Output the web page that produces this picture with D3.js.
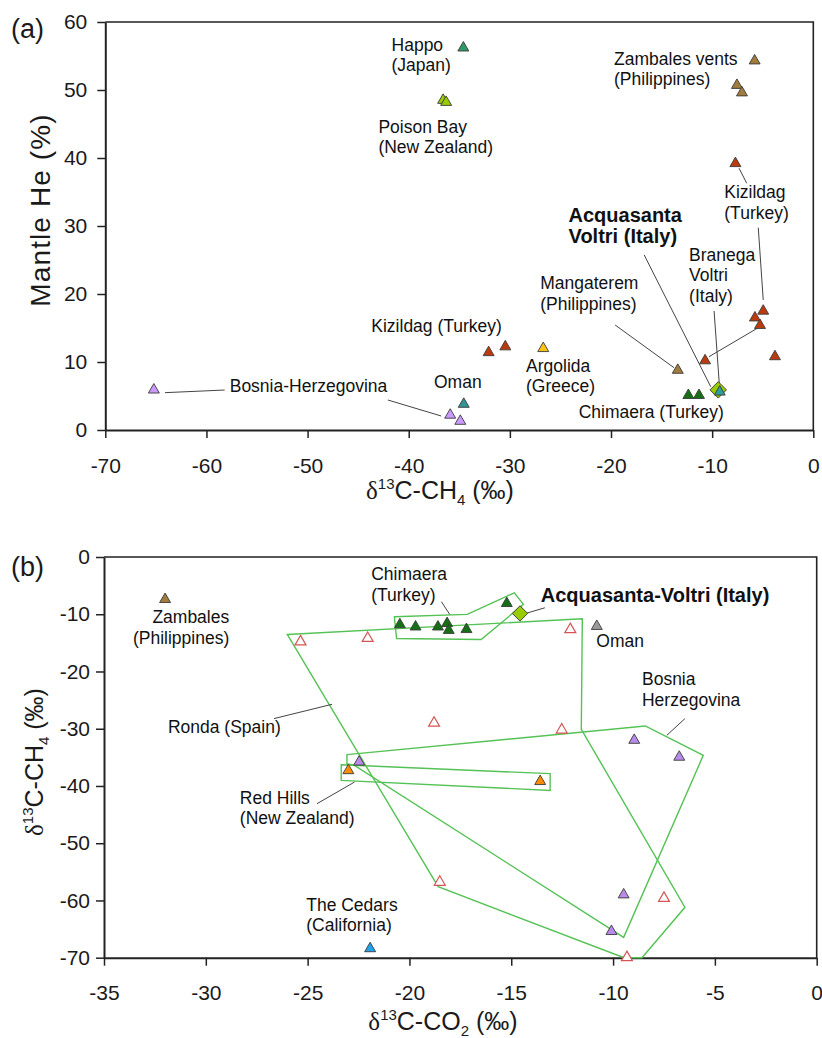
<!DOCTYPE html>
<html>
<head>
<meta charset="utf-8">
<script src="https://cdn.jsdelivr.net/npm/d3@7"></script>
<style>
  body { margin: 0; background: #fff; }
  svg { font-family: "Liberation Sans", Arial, sans-serif; }
</style>
</head>
<body>
<div id="chart"></div>
<script>
// ---- panel (a): d13C-CH4 (permil) vs mantle He (%) ----
var xTicksA = [-70, -60, -50, -40, -30, -20, -10, 0];
var yTicksA = [0, 10, 20, 30, 40, 50, 60];

var happoA = [[-34.6, 56.2]];
var poisonBayA = [[-36.6, 48.5], [-36.3, 48.2]];
var zambalesA = [[-5.8, 54.3], [-7.55, 50.7], [-7.05, 49.6]];
var kizildagA = [[-7.7, 39.2], [-4.95, 17.5], [-5.77, 16.5], [-5.27, 15.4],
                 [-3.79, 10.8], [-10.7, 10.2], [-32.1, 11.4], [-30.45, 12.25]];
var argolidaA = [[-26.7, 12.0]];
var mangateremA = [[-13.4, 8.8]];
var chimaeraA = [[-12.35, 5.1], [-11.3, 5.1]];
var acquasantaA = [[-9.4, 5.9]];
var branegaA = [[-9.25, 5.6]];
var omanA = [[-34.56, 3.8]];
var bosniaA = [[-65.2, 5.9], [-35.9, 2.2], [-34.9, 1.3]];

// ---- panel (b): d13C-CO2 vs d13C-CH4 ----
var xTicksB = [-35, -30, -25, -20, -15, -10, -5, 0];
var yTicksB = [0, -10, -20, -30, -40, -50, -60, -70];

var zambalesB = [[-32.0, -7.4]];
var rondaB = [[-25.35, -14.8], [-22.05, -14.2], [-12.1, -12.65], [-18.79, -29.0],
              [-12.52, -30.2], [-18.51, -56.8], [-7.5, -59.6], [-9.32, -69.95]];
var chimaeraB = [[-20.47, -11.8], [-19.7, -12.2], [-18.6, -12.2], [-18.15, -11.6],
                 [-18.07, -12.8], [-17.2, -12.65], [-15.22, -8.1]];
var acquasantaB = [[-14.57, -9.86]];
var omanB = [[-10.8, -12.1]];
var bosniaB = [[-22.47, -35.8], [-8.96, -32.0], [-6.75, -34.95], [-9.48, -59.0], [-10.08, -65.4]];
var redHillsB = [[-23.0, -37.3], [-13.58, -39.2]];
var cedarsB = [[-21.93, -68.4]];

// field outlines (panel b)
var rondaHull = [[-26.0, -13.53], [-11.51, -10.8], [-11.56, -30.1], [-6.47, -61.2],
                 [-8.58, -70], [-9.46, -70], [-18.59, -57.6]];
var bosniaHull = [[-23.07, -34.53], [-8.42, -29.52], [-5.57, -34.65], [-9.48, -66.45],
                  [-22.7, -36.4], [-23.07, -36.1]];
var redHillsHull = [[-23.35, -36.28], [-13.09, -37.85], [-13.09, -40.78], [-23.35, -39.03]];
var chimaeraHull = [[-20.74, -10.45], [-17.16, -10.03], [-14.85, -6.25], [-14.4, -8.28],
                    [-16.48, -14.4], [-20.63, -14.23]];

// annotations (anchor in data units)
var labelsA = [
  { lines: ["Happo", "(Japan)"], at: [-41.7, 55.8] },
  { lines: ["Poison Bay", "(New Zealand)"], at: [-43.0, 43.7] },
  { lines: ["Zambales vents", "(Philippines)"], at: [-19.7, 53.7] },
  { lines: ["Kizildag", "(Turkey)"], at: [-8.8, 34.1] },
  { lines: ["Acquasanta", "Voltri (Italy)"], at: [-24.2, 30.6], bold: true },
  { lines: ["Branega", "Voltri", "(Italy)"], at: [-12.28, 24.9] },
  { lines: ["Mangaterem", "(Philippines)"], at: [-27.0, 20.7] },
  { lines: ["Kizildag (Turkey)"], at: [-43.7, 14.46] },
  { lines: ["Argolida", "(Greece)"], at: [-28.4, 8.57] },
  { lines: ["Oman"], at: [-37.5, 6.13] },
  { lines: ["Chimaera (Turkey)"], at: [-23.2, 1.72] },
  { lines: ["Bosnia-Herzegovina"], at: [-57.7, 5.63] }
];
var leadersA = [
  [[-64.1, 5.49], [-58.2, 5.88]],
  [[-42.06, 4.41], [-36.79, 2.06]],
  [[-19.59, 15.44], [-13.77, 9.16]],
  [[-16.72, 25.74], [-10.14, 6.37]],
  [[-9.81, 17.5], [-9.25, 5.88]],
  [[-5.44, 29.75], [-4.95, 19.12]],
  [[-7.34, 38.49], [-6.58, 36.28]],
  [[-10.31, 10.78], [-5.54, 14.96]]
];

var labelsB = [
  { lines: ["Zambales", "(Philippines)"], at: [-28.85, -11.6], anchor: "end" },
  { lines: ["Chimaera", "(Turkey)"], at: [-21.88, -4.03] },
  { lines: ["Acquasanta-Voltri (Italy)"], at: [-13.55, -7.82], bold: true },
  { lines: ["Oman"], at: [-10.82, -15.7] },
  { lines: ["Bosnia", "Herzegovina"], at: [-8.58, -22.4] },
  { lines: ["Ronda (Spain)"], at: [-31.86, -30.68] },
  { lines: ["Red Hills", "(New Zealand)"], at: [-28.33, -43.1] },
  { lines: ["The Cedars", "(California)"], at: [-25.07, -61.78] }
];
var leadersB = [
  [[-18.43, -7.82], [-18.02, -10.03]],
  [[-14.28, -9.85], [-13.35, -8.87]],
  [[-26.65, -28.23], [-23.8, -25.73]],
  [[-7.36, -31.15], [-6.47, -28.23]],
  [[-24.54, -43.1], [-22.7, -39.32]]
];

var svg = d3.select("#chart").append("svg")
    .attr("width", 822)
    .attr("height", 1038);

var ink = "#222";

function makePanel(opt) {
    var p = {};
    p.x = d3.scaleLinear().domain(opt.xDomain).range([opt.left, opt.right]);
    p.y = d3.scaleLinear().domain(opt.yDomain).range([opt.bottom, opt.top]);
    p.g = svg.append("g");

    // top + right frame
    p.g.append("path")
        .attr("d", "M" + opt.left + "," + opt.top + "H" + opt.right + "V" + opt.bottom)
        .attr("fill", "none")
        .attr("stroke", ink)
        .attr("stroke-width", 1.6);

    var xAxisCall = d3.axisBottom(p.x)
        .tickValues(opt.xTicks)
        .tickFormat(function(d) { return String(d); })
        .tickSize(8).tickSizeOuter(0).tickPadding(opt.xPad);
    var yAxisCall = d3.axisLeft(p.y)
        .tickValues(opt.yTicks)
        .tickFormat(function(d) { return String(d); })
        .tickSize(8).tickSizeOuter(0).tickPadding(opt.yPad);

    [p.g.append("g").attr("transform", "translate(0," + opt.bottom + ")").call(xAxisCall),
     p.g.append("g").attr("transform", "translate(" + opt.left + ",0)").call(yAxisCall)]
        .forEach(function(ax) {
            ax.attr("font-family", null).attr("font-size", 21);
            ax.select(".domain").attr("stroke", ink).attr("stroke-width", 2);
            ax.selectAll(".tick line").attr("stroke", ink).attr("stroke-width", 1.5);
            ax.selectAll(".tick text").attr("fill", "#1a1a1a");
        });

    p.g.append("text")
        .attr("x", 11).attr("y", opt.tagY)
        .attr("font-size", 27)
        .attr("fill", "#1a1a1a")
        .text(opt.tag);
    return p;
}

function drawPoints(p, data, fill, opts) {
    opts = opts || {};
    var sym = d3.symbol().type(opts.diamond ? d3.symbolSquare : d3.symbolTriangle)
        .size(opts.size || 52);
    p.g.append("g").selectAll("path")
        .data(data)
        .enter().append("path")
        .attr("d", sym)
        .attr("transform", function(d) {
            return "translate(" + p.x(d[0]) + "," + p.y(d[1]) + ")" + (opts.diamond ? " rotate(45)" : "");
        })
        .attr("fill", fill)
        .attr("stroke", opts.stroke || "#3a3a3a")
        .attr("stroke-width", opts.sw || 0.9);
}

function drawLabels(p, labels, leaders) {
    p.g.append("g").selectAll("line")
        .data(leaders)
        .enter().append("line")
        .attr("x1", function(d) { return p.x(d[0][0]); })
        .attr("y1", function(d) { return p.y(d[0][1]); })
        .attr("x2", function(d) { return p.x(d[1][0]); })
        .attr("y2", function(d) { return p.y(d[1][1]); })
        .attr("stroke", "#444")
        .attr("stroke-width", 1);

    labels.forEach(function(l) {
        var t = p.g.append("text")
            .attr("x", p.x(l.at[0]))
            .attr("y", p.y(l.at[1]))
            .attr("text-anchor", l.anchor || "start")
            .attr("font-size", l.bold ? 20 : 17.5)
            .attr("font-weight", l.bold ? "bold" : null)
            .attr("fill", "#111");
        l.lines.forEach(function(s, i) {
            t.append("tspan")
                .attr("x", p.x(l.at[0]))
                .attr("dy", i === 0 ? 0 : (l.bold ? 21.5 : 20.5))
                .text(s);
        });
    });
}

// delta title: d13C-XX(sub) (permil)
function deltaTitle(sel, mid, sub) {
    sel.append("tspan").attr("font-family", "'Liberation Serif', serif").text("δ");
    sel.append("tspan").attr("font-size", 15).attr("dy", -10).text("13");
    sel.append("tspan").attr("dy", 10).text("C-" + mid);
    sel.append("tspan").attr("font-size", 15).attr("dy", 6).text(sub);
    sel.append("tspan").attr("dy", -6).text(" (‰)");
}

// ---------- panel (a) ----------
var pa = makePanel({
    xDomain: [-70, 0], yDomain: [0, 60],
    left: 105.3, right: 813.3, top: 22, bottom: 430,
    xTicks: xTicksA, yTicks: yTicksA, xPad: 20, yPad: 10,
    tag: "(a)", tagY: 38
});

drawLabels(pa, labelsA, leadersA);

drawPoints(pa, bosniaA, "#cc99ff");
drawPoints(pa, omanA, "#2f9595");
drawPoints(pa, kizildagA, "#bb3b0e");
drawPoints(pa, argolidaA, "#ffc20e");
drawPoints(pa, mangateremA, "#a27c3c");
drawPoints(pa, chimaeraA, "#157015");
drawPoints(pa, zambalesA, "#a27c3c");
drawPoints(pa, poisonBayA, "#99cc00");
drawPoints(pa, happoA, "#2e9966");
drawPoints(pa, acquasantaA, "#99cc00", { diamond: true, size: 135 });
drawPoints(pa, branegaA, "#2f9d9d");

pa.g.append("text")
    .attr("transform", "translate(50,210) rotate(-90)")
    .attr("text-anchor", "middle")
    .attr("font-size", 28)
    .attr("letter-spacing", 1.1)
    .attr("fill", "#1a1a1a")
    .text("Mantle He (%)");

deltaTitle(pa.g.append("text")
    .attr("x", 440).attr("y", 499)
    .attr("text-anchor", "middle")
    .attr("font-size", 25)
    .attr("fill", "#1a1a1a"), "CH", "4");

// ---------- panel (b) ----------
var pb = makePanel({
    xDomain: [-35, 0], yDomain: [-70, 0],
    left: 104, right: 816.7, top: 557, bottom: 957.7,
    xTicks: xTicksB, yTicks: yTicksB, xPad: 19.5, yPad: 6,
    tag: "(b)", tagY: 576
});

var hullLine = d3.line()
    .x(function(d) { return pb.x(d[0]); })
    .y(function(d) { return pb.y(d[1]); })
    .curve(d3.curveLinearClosed);

pb.g.append("g").selectAll("path")
    .data([rondaHull, bosniaHull, redHillsHull, chimaeraHull])
    .enter().append("path")
    .attr("d", hullLine)
    .attr("fill", "none")
    .attr("stroke", "#55c255")
    .attr("stroke-width", 1.4);

drawLabels(pb, labelsB, leadersB);

drawPoints(pb, rondaB, "#fff", { stroke: "#d45555", sw: 1.2 });
drawPoints(pb, zambalesB, "#a27c3c");
drawPoints(pb, chimaeraB, "#157015");
drawPoints(pb, omanB, "#9a9a9a");
drawPoints(pb, bosniaB, "#b98ae8");
drawPoints(pb, redHillsB, "#ff8c00");
drawPoints(pb, cedarsB, "#1ea4ee");
drawPoints(pb, acquasantaB, "#99cc00", { diamond: true, size: 118 });

deltaTitle(pb.g.append("text")
    .attr("transform", "translate(43,762) rotate(-90)")
    .attr("text-anchor", "middle")
    .attr("font-size", 25)
    .attr("fill", "#1a1a1a"), "CH", "4");

deltaTitle(pb.g.append("text")
    .attr("x", 443).attr("y", 1030)
    .attr("text-anchor", "middle")
    .attr("font-size", 25)
    .attr("fill", "#1a1a1a"), "CO", "2");
</script>
</body>
</html>
